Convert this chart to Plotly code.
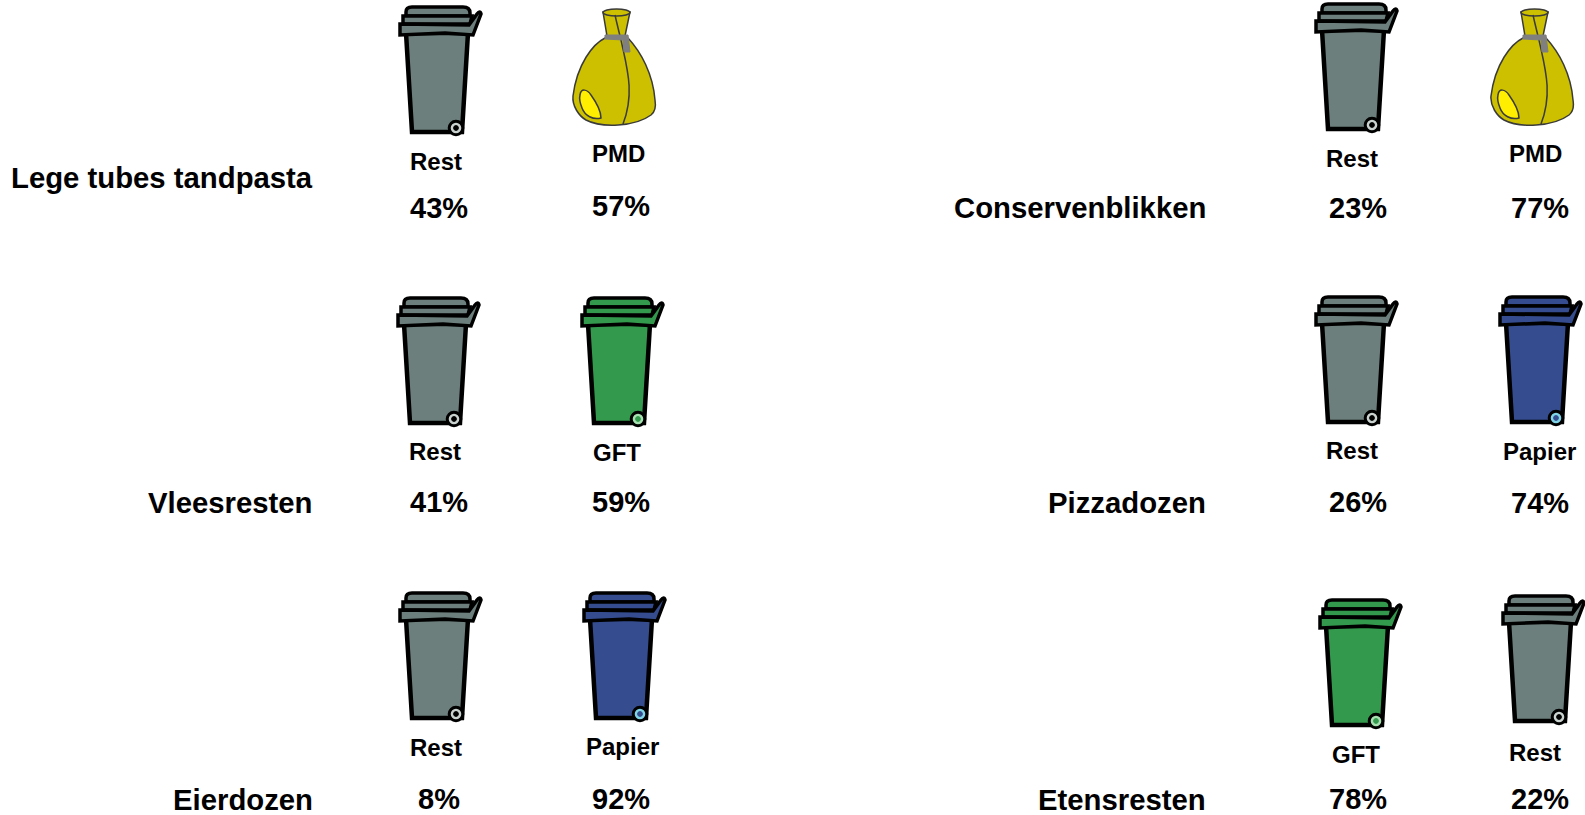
import plotly.graph_objects as go

# ---------- data ----------
items_left = ["Lege tubes tandpasta", "Vleesresten", "Eierdozen"]
items_right = ["Conservenblikken", "Pizzadozen", "Etensresten"]
streams_left = [["Rest", "PMD"], ["Rest", "GFT"], ["Rest", "Papier"]]
streams_right = [["Rest", "PMD"], ["Rest", "Papier"], ["GFT", "Rest"]]
shares_left = [[43, 57], [41, 59], [8, 92]]
shares_right = [[23, 77], [26, 74], [78, 22]]

# ---------- styling ----------
W, H = 1585, 815
FONT = "Liberation Sans, Arial, sans-serif"
COL = {"Rest": "#6c7f7c", "GFT": "#33994d", "Papier": "#354d8f"}
HUB = {"Rest": "#c9d2cf", "GFT": "#a6e0b0", "Papier": "#7fd3e6"}

# layout: icon pos, stream label pos, percent pos per row, per column
ICON_L = [[(400, 6), (573, 8)], [(398, 297), (582, 297)], [(400, 592), (584, 592)]]
ICON_R = [[(1316, 3), (1491, 8)], [(1316, 296), (1500, 296)], [(1320, 599), (1503, 595)]]
LAB_L = [[(436, 161), (618, 153)], [(435, 451), (617, 452)], [(436, 747), (622, 746)]]
LAB_R = [[(1352, 158), (1535, 153)], [(1352, 450), (1539, 451)], [(1356, 754), (1535, 752)]]
PCT_L = [[(439, 208), (621, 206)], [(439, 502), (621, 502)], [(439, 799), (621, 799)]]
PCT_R = [[(1358, 208), (1540, 208)], [(1358, 502), (1540, 503)], [(1358, 799), (1540, 799)]]
NAME_L = [(315, 177), (315, 502), (315, 799)]
NAME_R = [(1208, 207), (1208, 502), (1208, 799)]

shapes = []


def path(ox, oy, cmds):
    out = []
    for c in cmds:
        if isinstance(c, str):
            out.append(c)
        else:
            out.append(f"{ox + c[0]:.1f},{oy + c[1]:.1f}")
    return " ".join(out)


def add(ox, oy, cmds, fill="rgba(0,0,0,0)", line="#000000", lw=4):
    shapes.append(dict(type="path", xref="x", yref="y", path=path(ox, oy, cmds),
                       fillcolor=fill, line=dict(color=line, width=lw), layer="above"))


def circle(cx, cy, r, fill, line="#000000", lw=3):
    shapes.append(dict(type="circle", xref="x", yref="y", x0=cx - r, x1=cx + r, y0=cy - r, y1=cy + r,
                       fillcolor=fill, line=dict(color=line, width=lw), layer="above"))


def bin_icon(ox, oy, kind):
    c = COL[kind]
    # body
    add(ox, oy, ["M", (6, 27), "L", (68, 27), "L", (62, 126), "L", (12, 126), "Z"], c, lw=4.5)
    # top lid tier
    add(ox, oy, ["M", (6, 10), "L", (6, 6), "Q", (6, 1), (12, 1), "L", (63, 1), "Q", (70, 1), (70, 7),
                 "L", (70, 10), "Z"], c, lw=3.5)
    # middle lid tier
    add(ox, oy, ["M", (3, 10), "L", (72, 10), "L", (70, 18), "L", (3, 18), "Z"], c, lw=3.5)
    # lower lid tier with handle
    add(ox, oy, ["M", (0, 18), "L", (69, 19), "L", (77, 8), "Q", (80, 4), (81, 8), "L", (73, 29), "L", (45, 27),
                 "L", (0, 29), "Z"], c, lw=3.5)
    # wheel
    circle(ox + 56, oy + 122, 6.8, HUB[kind], lw=3)
    circle(ox + 56, oy + 122, 2.4, "#000000" if kind == "Rest" else c, line=c if kind != "Rest" else "#000000", lw=1)


def bag_icon(ox, oy):
    Y, DK = "#ccc000", "#3a3a3a"
    # sack
    add(ox, oy, ["M", (32, 30), "C", (20, 36), (4, 56), (0, 88), "C", (-1, 98), (6, 108), (13, 112),
                 "C", (28, 120), (62, 119), (78, 107), "C", (83, 103), (83, 98), (82, 92),
                 "C", (80, 66), (68, 44), (55, 30), "Z"], Y, DK, 1.5)
    # neck
    add(ox, oy, ["M", (30, 4), "L", (57, 4), "L", (52, 28), "L", (34, 28), "Z"], Y, DK, 1.5)
    # opening
    shapes.append(dict(type="circle", xref="x", yref="y", x0=ox + 30, x1=ox + 57, y0=oy + 1, y1=oy + 8,
                       fillcolor=Y, line=dict(color=DK, width=1.5), layer="above"))
    # seam
    add(ox, oy, ["M", (42, 7), "C", (44, 16), (46, 24), (48, 32), "C", (54, 60), (62, 85), (50, 116)],
        line=DK, lw=1.5)
    # tie
    add(ox, oy, ["M", (32, 27), "L", (55, 27), "L", (57, 44), "L", (51, 44), "L", (50, 32), "L", (32, 31), "Z"],
        "#7f7f7f", "#7f7f7f", 1)
    # window
    add(ox, oy, ["M", (7, 87), "C", (8, 80), (14, 81), (18, 87), "C", (23, 94), (28, 104), (28, 110),
                 "C", (20, 112), (12, 108), (9, 100), "C", (7, 95), (6, 91), (7, 87), "Z"],
        "#ffee00", DK, 1.5)


annotations = []


def txt(pos, s, size, anchor="center"):
    annotations.append(dict(x=pos[0], y=pos[1], xref="x", yref="y", text=s, showarrow=False,
                            xanchor=anchor, yanchor="middle",
                            font=dict(family=FONT, size=size, color="#000000")))


def column(names, streams, shares, icons, labs, pcts, name_pos):
    for r, name in enumerate(names):
        txt(name_pos[r], f"<b>{name}</b>", 29.3, "right")
        for c, stream in enumerate(streams[r]):
            ox, oy = icons[r][c]
            if stream == "PMD":
                bag_icon(ox, oy)
            else:
                bin_icon(ox, oy, stream)
            txt(labs[r][c], f"<b>{stream}</b>", 24)
            txt(pcts[r][c], f"<b>{shares[r][c]}%</b>", 29)


column(items_left, streams_left, shares_left, ICON_L, LAB_L, PCT_L, NAME_L)
column(items_right, streams_right, shares_right, ICON_R, LAB_R, PCT_R, NAME_R)

fig = go.Figure(go.Scatter(x=[0, W], y=[0, H], mode="markers", marker=dict(opacity=0), hoverinfo="skip",
                           showlegend=False))
fig.update_layout(
    width=W, height=H, margin=dict(l=0, r=0, t=0, b=0),
    paper_bgcolor="#ffffff", plot_bgcolor="#ffffff",
    xaxis=dict(range=[0, W], visible=False, fixedrange=True),
    yaxis=dict(range=[H, 0], visible=False, fixedrange=True),
    shapes=shapes, annotations=annotations, showlegend=False,
)
fig.write_html("out.html", config={"displayModeBar": False},
               post_script="document.body.style.margin='0';document.body.style.overflow='hidden';")
